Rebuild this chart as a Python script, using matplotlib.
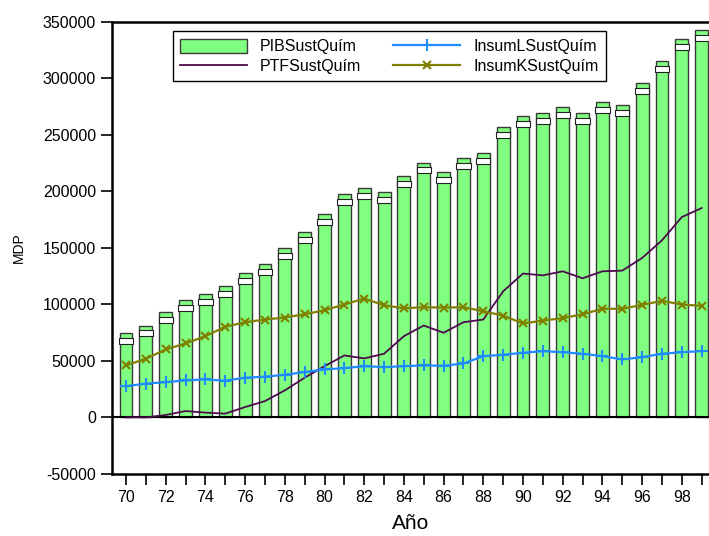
import matplotlib
matplotlib.use("Agg")
import matplotlib.pyplot as plt
import numpy as np

plt.rcParams['font.family'] = ['Liberation Sans', 'DejaVu Sans']

years = list(range(70, 100))
pib = [74500, 81000, 93000, 103500, 109300, 115700, 127600, 135800, 149600, 163800,
       180000, 197600, 202500, 198800, 213500, 225300, 217300, 229700, 233600, 256500,
       266800, 269400, 274700, 269400, 279200, 276200, 295400, 315400, 334300, 342500]
ptf = [-300, -300, 1800, 5300, 3900, 3000, 8800, 14100, 23600, 34800,
       45000, 54500, 51900, 56000, 71600, 81000, 74600, 83900, 86300, 111300,
       127000, 125400, 129000, 122800, 129000, 129600, 140800, 156400, 177000, 185000]
insum_l = [27400, 29500, 30900, 32400, 33300, 32100, 34800, 35700, 37400, 39800,
           42100, 43300, 45000, 44200, 45000, 45700, 45400, 47400, 53900, 55100,
           56900, 58300, 57400, 56000, 53900, 51000, 53000, 56000, 57400, 58300]
insum_k = [45700, 51600, 59800, 65100, 71600, 79900, 83900, 86300, 88100, 91000,
           94500, 99600, 104900, 98900, 96300, 97200, 96900, 97200, 93600, 89800,
           82800, 85400, 87500, 91000, 95800, 95800, 99300, 102800, 99600, 98400]
yticks = [-50000, 0, 50000, 100000, 150000, 200000, 250000, 300000, 350000]
xtick_labels = [str(y) for y in years]

fig = plt.figure(figsize=(7.09, 5.36), dpi=100)
ax = fig.add_axes([0.158, 0.1166, 0.842, 0.843])

x = np.array(years)
bars = ax.bar(x, pib, width=0.65, color='#80FF80', edgecolor='#3a3a3a',
              linewidth=1.0, label='PIBSustQuím', zorder=2)
# white label boxes near the top of each bar
cap_off = 4400
cap_h = 5300
ax.bar(x, [cap_h] * len(x), bottom=np.array(pib) - cap_off - cap_h, width=0.72,
       color='white', edgecolor='#222222', linewidth=0.8, zorder=3)

ax.axhline(0, color='black', linewidth=1.5, zorder=4)

l_ptf, = ax.plot(x, ptf, color='#4B0A4B', linewidth=1.3, label='PTFSustQuím', zorder=5)
l_l, = ax.plot(x, insum_l, color='#1E8CFF', linewidth=1.6, marker='+', markersize=9,
               markeredgewidth=1.5, label='InsumLSustQuím', zorder=5)
l_k, = ax.plot(x, insum_k, color='#808000', linewidth=1.6, marker='x', markersize=5.5,
               markeredgewidth=1.5, label='InsumKSustQuím', zorder=5)

ax.set_xlim(69.295, 99.37)
ax.set_ylim(-50000, 350000)
ax.set_yticks(yticks)
ax.set_yticklabels([str(v) for v in yticks], fontsize=11.5)
ax.set_xticks(x)
ax.set_xticklabels([l if int(l) % 2 == 0 else '' for l in xtick_labels], fontsize=11.5)
ax.tick_params(axis='both', direction='out', length=8, width=1.2, color='black')
ax.tick_params(axis='x', pad=4)

for s in ['left', 'bottom', 'top']:
    ax.spines[s].set_linewidth(1.8)
    ax.spines[s].set_color('black')
ax.spines['right'].set_visible(False)

ax.set_ylabel('MDP', fontsize=10, labelpad=12)
ax.set_xlabel('Año', fontsize=15, labelpad=6)

leg = ax.legend([bars, l_ptf, l_l, l_k],
                ['PIBSustQuím', 'PTFSustQuím', 'InsumLSustQuím', 'InsumKSustQuím'],
                ncol=2, loc='upper left', numpoints=1,
                bbox_to_anchor=(0.089, 0.996), fontsize=11.5, frameon=True,
                fancybox=False, framealpha=1, edgecolor='black',
                handlelength=4.2, handleheight=1.0, columnspacing=2.0,
                borderpad=0.45, labelspacing=0.25, handletextpad=0.8)
leg.get_frame().set_linewidth(1.0)

fig.savefig('out.png', dpi=100)
